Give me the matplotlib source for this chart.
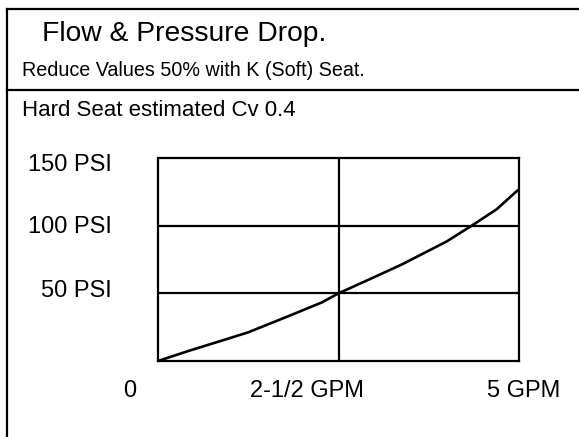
import matplotlib
matplotlib.use("Agg")
import matplotlib.pyplot as plt
from matplotlib.lines import Line2D

plt.rcParams['font.family'] = ['Liberation Sans', 'DejaVu Sans']

# flow (GPM) vs pressure drop (PSI)
flow_gpm = [0, 0.42, 0.88, 1.25, 1.80, 2.27, 2.5, 2.91, 3.38, 3.84, 4.0, 4.345, 4.69, 5.0]
drop_psi = [0, 7.4, 15.0, 21.2, 33.0, 43.3, 50, 59.9, 71.4, 84.0, 88.4, 100, 112.1, 127]

xtick_vals = [0, 2.5, 5]
xtick_labels = ['0', '2-1/2 GPM', '5 GPM']
ytick_vals = [50, 100, 150]
ytick_labels = ['50 PSI', '100 PSI', '150 PSI']

title = 'Flow & Pressure Drop.'
subtitle = 'Reduce Values 50% with K (Soft) Seat.'
note = 'Hard Seat estimated Cv 0.4'

W, H = 579, 437
fig = plt.figure(figsize=(W / 100, H / 100), dpi=100)

def fx(px):
    return px / W

def fy(py):
    return 1 - py / H

# outer frame and header separator
fig.add_artist(Line2D([fx(7), fx(7)], [fy(9), fy(H + 5)], color='black', lw=1.6))
fig.add_artist(Line2D([fx(7), fx(W + 5)], [fy(9), fy(9)], color='black', lw=1.6))
fig.add_artist(Line2D([fx(7), fx(W + 5)], [fy(90), fy(90)], color='black', lw=1.6))

fig.text(fx(42), fy(34), title, fontsize=20.3, va='center', ha='left')
fig.text(fx(22), fy(70), subtitle, fontsize=14.2, va='center', ha='left')
fig.text(fx(22), fy(111), note, fontsize=16, va='center', ha='left')

ax = fig.add_axes([fx(158), fy(361), fx(519) - fx(158), fy(158) - fy(361)])
ax.plot(flow_gpm, drop_psi, color='black', lw=1.9, solid_joinstyle='round')
ax.set_xlim(0, 5)
ax.set_ylim(0, 150)
for spine in ax.spines.values():
    spine.set_linewidth(1.6)
ax.set_xticks([])
ax.set_yticks([])
for v in ytick_vals[:-1]:
    ax.axhline(v, color='black', lw=1.6)
ax.axvline(xtick_vals[1], color='black', lw=1.6)

# labels sit off their gridlines a bit, as in the original
x_offsets = [-28, -31, 5]
for v, lab, dx in zip(xtick_vals, xtick_labels, x_offsets):
    ax.annotate(lab, xy=(v, 0), xytext=(dx * 0.72, -30 * 0.72), textcoords='offset points',
                ha='center', va='center', fontsize=17, annotation_clip=False)
y_offsets = [2, -1, -7]
for v, lab, dy in zip(ytick_vals, ytick_labels, y_offsets):
    ax.annotate(lab, xy=(0, v), xytext=(-46 * 0.72, dy * 0.72), textcoords='offset points',
                ha='right', va='center', fontsize=17, annotation_clip=False)

fig.savefig('out.png', dpi=100)
